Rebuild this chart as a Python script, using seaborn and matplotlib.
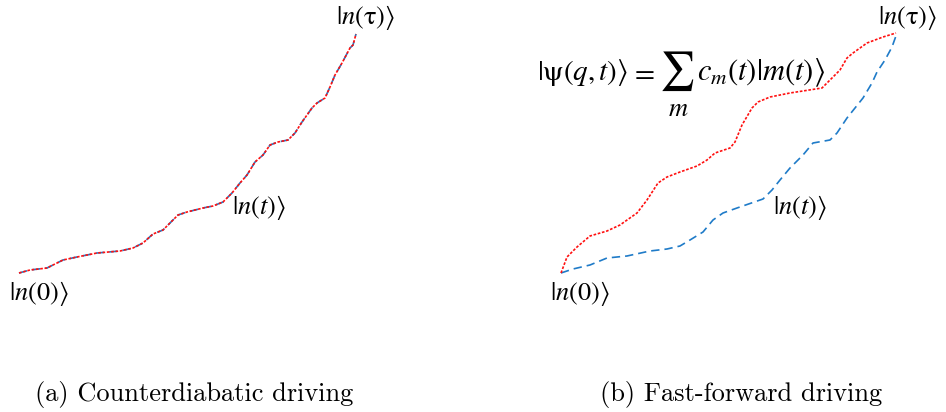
import matplotlib
matplotlib.use("Agg")
import matplotlib.pyplot as plt
import seaborn as sns

sns.set_theme(style="white")
plt.rcParams["mathtext.fontset"] = "stix"

# (a) counterdiabatic driving: adiabatic path and driven path coincide
cd_x = [19, 30, 47, 63, 77, 97, 120, 133, 143, 153, 163, 170, 178, 187, 203, 213, 223, 232,
        240, 247, 255, 263, 270, 278, 288, 295, 302, 307, 312, 317, 325, 330, 335, 342, 350, 353, 356]
cd_y = [273, 270, 268, 260, 257, 253, 251, 248, 243, 234, 230, 223, 215, 212, 208, 206, 202, 193,
        183, 175, 162, 155, 145, 142, 140, 133, 122, 115, 108, 103, 98, 87, 75, 63, 48, 45, 34]

# (b) fast-forward driving: adiabatic path |n(t)>
ad_x = [561, 573, 590, 607, 627, 650, 667, 680, 690, 703, 713, 723, 737, 763, 772, 780, 790,
        803, 813, 830, 837, 847, 855, 863, 872, 877, 885, 892, 897]
ad_y = [273, 269, 265, 258, 256, 251, 249, 246, 240, 232, 220, 213, 208, 199, 190, 180, 168,
        155, 143, 140, 133, 118, 108, 98, 83, 72, 60, 47, 33]

# (b) fast-forward driving: driven path |psi(q,t)>
ff_x = [561, 567, 577, 590, 607, 620, 637, 647, 658, 667, 680, 697, 707, 715, 730, 735, 742,
        752, 758, 770, 790, 822, 830, 840, 847, 853, 867, 883, 896]
ff_y = [273, 257, 247, 236, 231, 225, 213, 200, 183, 177, 172, 166, 160, 153, 148, 142, 125,
        108, 102, 97, 93, 88, 80, 70, 58, 53, 43, 37, 33]

state_labels = [r"$|n(0)\rangle$", r"$|n(t)\rangle$", r"$|n(\mathrm{\tau})\rangle$"]
left_label_pos = [(9, 293), (232, 207), (336, 17)]
right_label_pos = [(550, 293), (773, 207), (878, 17)]

# expansion of the driven state in the adiabatic basis, set as display-style math
formula_lhs = r"$|\mathrm{\psi}(q,t)\rangle$"
formula_eq = r"$=$"
formula_sum = r"$\sum$"
formula_index = r"$m$"
formula_rhs = r"$c_m(t)|m(t)\rangle$"

captions = ["(a) Counterdiabatic driving", "(b) Fast-forward driving"]
caption_x = [194, 741]

BLUE = "#1f7bc8"
RED = "#ff1010"

fig = plt.figure(figsize=(9.46, 4.12), dpi=100)
ax = fig.add_axes([0, 0, 1, 1])
ax.set_xlim(0, 946)
ax.set_ylim(412, 0)
ax.axis("off")

dash_blue = (0, (5, 3))
dot_red = (0, (1.6, 1.0))

sns.lineplot(x=cd_x, y=cd_y, sort=False, estimator=None, ax=ax, color=BLUE, lw=1.2, linestyle=dash_blue)
sns.lineplot(x=cd_x, y=cd_y, sort=False, estimator=None, ax=ax, color=RED, lw=1.2, linestyle=dot_red)
sns.lineplot(x=ad_x, y=ad_y, sort=False, estimator=None, ax=ax, color=BLUE, lw=1.2, linestyle=dash_blue)
sns.lineplot(x=ff_x, y=ff_y, sort=False, estimator=None, ax=ax, color=RED, lw=1.2, linestyle=dot_red)

for lab, (x, y) in zip(state_labels, left_label_pos):
    ax.text(x, y, lab, fontsize=19, ha="left", va="center", color="black")
for lab, (x, y) in zip(state_labels, right_label_pos):
    ax.text(x, y, lab, fontsize=19, ha="left", va="center", color="black")

ax.text(537, 80, formula_lhs, fontsize=21, ha="left", va="baseline", color="black")
ax.text(642, 80, formula_eq, fontsize=21, ha="center", va="baseline", color="black")
ax.text(677, 71, formula_sum, fontsize=28, ha="center", va="center", color="black")
ax.text(678, 109, formula_index, fontsize=19, ha="center", va="center", color="black")
ax.text(697, 80, formula_rhs, fontsize=22, ha="left", va="baseline", color="black")

for cap, x in zip(captions, caption_x):
    ax.text(x, 395, cap, fontsize=19, family="cmr10", ha="center", va="center", color="black")

fig.savefig("out.png", dpi=100, facecolor="white")
